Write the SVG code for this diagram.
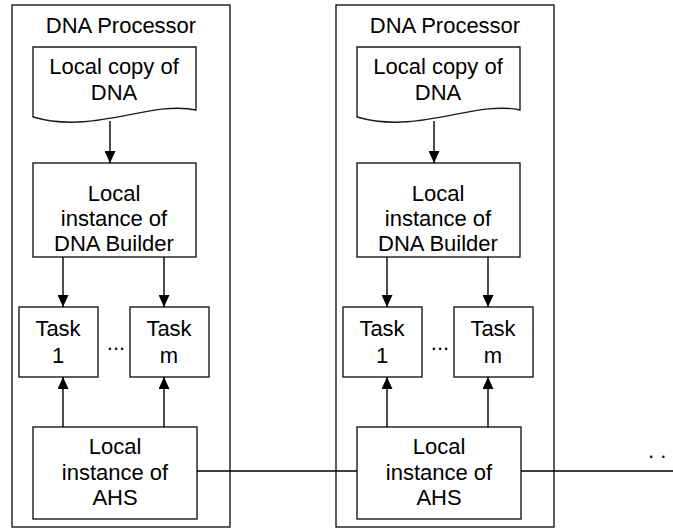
<svg xmlns="http://www.w3.org/2000/svg" width="673" height="530" viewBox="0 0 673 530">
<style>
.box{fill:#fff;stroke:#1a1a1a;stroke-width:1.4}
.outer{fill:none;stroke:#1a1a1a;stroke-width:1.4}
.t{font-family:"Liberation Sans",Arial,sans-serif;font-size:22px;fill:#000;text-anchor:middle}
.c{fill:none;stroke:#000;stroke-width:1.4}
</style>
<defs>
<marker id="ah" viewBox="0 0 12 11" refX="12" refY="5.5" markerWidth="12" markerHeight="11" markerUnits="userSpaceOnUse" orient="auto">
<path d="M0,0 L12,5.5 L0,11 z" fill="#000"/>
</marker>
<g id="proc">
<rect class="outer" x="12" y="5" width="218" height="522"/>
<text class="t" x="121" y="33">DNA Processor</text>
<path class="box" d="M33,47 H196 V110 C150,100 95,135 33,117 Z"/>
<text class="t" x="114" y="74">Local copy of</text>
<text class="t" x="114" y="100">DNA</text>
<rect class="box" x="33" y="163" width="163" height="94"/>
<text class="t" x="114" y="201">Local</text>
<text class="t" x="114" y="226">instance of</text>
<text class="t" x="114" y="251">DNA Builder</text>
<rect class="box" x="19" y="307" width="79" height="70"/>
<text class="t" x="58" y="336">Task</text>
<text class="t" x="58" y="363">1</text>
<rect class="box" x="130" y="307" width="79" height="70"/>
<text class="t" x="169" y="336">Task</text>
<text class="t" x="169" y="363">m</text>
<text class="t" x="116" y="350">...</text>
<rect class="box" x="33" y="427" width="164" height="92"/>
<text class="t" x="115" y="454">Local</text>
<text class="t" x="115" y="480">instance of</text>
<text class="t" x="115" y="505">AHS</text>
<line class="c" x1="110" y1="121" x2="110" y2="163" marker-end="url(#ah)"/>
<line class="c" x1="63" y1="257" x2="63" y2="307" marker-end="url(#ah)"/>
<line class="c" x1="164" y1="257" x2="164" y2="307" marker-end="url(#ah)"/>
<line class="c" x1="63" y1="427" x2="63" y2="377" marker-end="url(#ah)"/>
<line class="c" x1="164" y1="427" x2="164" y2="377" marker-end="url(#ah)"/>
</g>
</defs>
<g id="processor1"><use href="#proc"/></g>
<g id="processor2" transform="translate(324,0)"><use href="#proc"/></g>
<g id="connectors">
<line class="c" x1="197" y1="471" x2="357" y2="471"/>
<line class="c" x1="521" y1="471" x2="673" y2="471"/>
</g>
<text class="t" x="648" y="458" style="text-anchor:start">. .</text>
</svg>
